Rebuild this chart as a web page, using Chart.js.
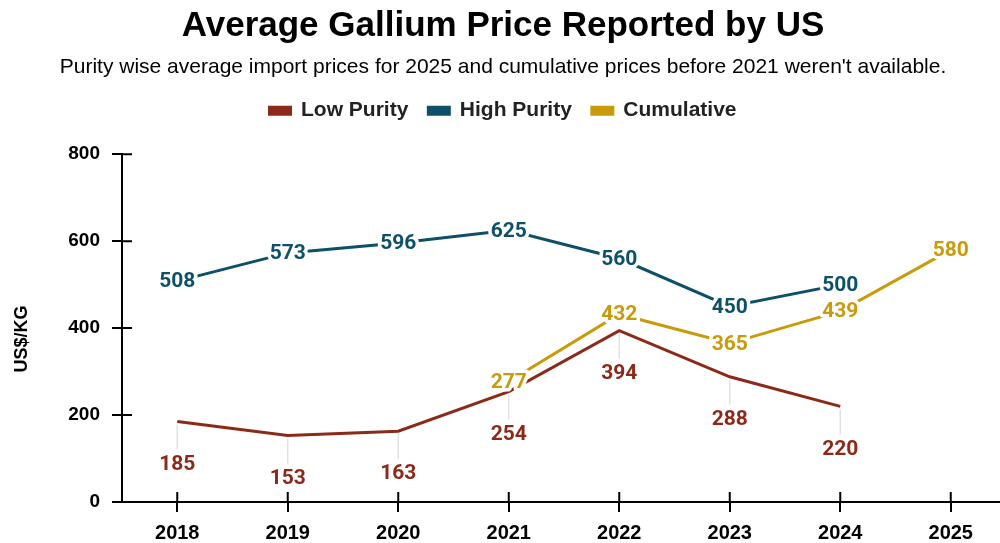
<!DOCTYPE html>
<html>
<head>
<meta charset="utf-8">
<script src="https://cdn.jsdelivr.net/npm/chart.js@4.4.1/dist/chart.umd.min.js"></script>
<style>
  html, body { margin: 0; padding: 0; background: #fff; overflow: hidden; }
  #wrap { width: 1018px; height: 543px; }
</style>
</head>
<body>
<div id="wrap"><canvas id="galliumChart"></canvas></div>
<script>
//Data harga gallium//
const years = ["2018", "2019", "2020", "2021", "2022", "2023", "2024", "2025"];
const lowPurity = [185, 153, 163, 254, 394, 288, 220, null];
const highPurity = [508, 573, 596, 625, 560, 450, 500, null];
const cumulative = [null, null, null, 277, 432, 365, 439, 580];
const yTicks = [0, 200, 400, 600, 800];

const RED = "#8c2a1a";
const BLUE = "#0e5069";
const GOLD = "#c99a0a";

// labels on each point; low purity labels sit under the line with a thin leader
const pointLabels = {
  id: "pointLabels",
  afterDatasetsDraw(chart) {
    const ctx = chart.ctx;
    ctx.save();
    ctx.font = "bold 21px Roboto";
    ctx.textAlign = "center";
    ctx.textBaseline = "middle";
    ctx.lineJoin = "round";
    chart.data.datasets.forEach((ds, i) => {
      const meta = chart.getDatasetMeta(i);
      meta.data.forEach((pt, j) => {
        const v = ds.data[j];
        if (v === null || v === undefined) return;
        let y = pt.y;
        if (ds.labelBelow) {
          y = pt.y + 42;
          ctx.strokeStyle = "#e2e2e2";
          ctx.lineWidth = 1.5;
          ctx.beginPath();
          ctx.moveTo(pt.x, pt.y + 3);
          ctx.lineTo(pt.x, y - 14);
          ctx.stroke();
        }
        ctx.strokeStyle = "#fff";
        ctx.lineWidth = 7;
        ctx.strokeText(String(v), pt.x, y + 1);
        ctx.fillStyle = ds.borderColor;
        ctx.fillText(String(v), pt.x, y + 1);
      });
    });
    ctx.restore();
  },
};

// tick marks that cross the axis lines, plus the rotated y title
const axisExtras = {
  id: "axisExtras",
  afterDraw(chart) {
    const ctx = chart.ctx;
    const area = chart.chartArea;
    const x = chart.scales.x;
    const y = chart.scales.y;
    ctx.save();
    ctx.strokeStyle = "#000";
    ctx.lineWidth = 2;
    ctx.beginPath();
    yTicks.forEach((t) => {
      const py = y.getPixelForValue(t);
      ctx.moveTo(area.left, py);
      ctx.lineTo(area.left + 10, py);
    });
    years.forEach((yr, i) => {
      const px = x.getPixelForValue(i);
      ctx.moveTo(px, area.bottom);
      ctx.lineTo(px, area.bottom - 10);
    });
    ctx.stroke();

    ctx.translate(22, 339);
    ctx.rotate(-Math.PI / 2);
    ctx.font = "bold 18px 'Liberation Sans', Arial";
    ctx.fillStyle = "#000";
    ctx.textAlign = "center";
    ctx.textBaseline = "middle";
    ctx.fillText("US$/KG", 0, 0);
    ctx.restore();
  },
};

// extra room between the legend and the plot
const legendGap = {
  id: "legendGap",
  beforeInit(chart) {
    const fit = chart.legend.fit;
    chart.legend.fit = function () {
      fit.bind(chart.legend)();
      this.height += 23;
    };
  },
};

const data = {
  labels: years,
  datasets: [
    {
      label: "Low Purity",
      data: lowPurity,
      borderColor: RED,
      backgroundColor: RED,
      labelBelow: true,
    },
    {
      label: "High Purity",
      data: highPurity,
      borderColor: BLUE,
      backgroundColor: BLUE,
    },
    {
      label: "Cumulative",
      data: cumulative,
      borderColor: GOLD,
      backgroundColor: GOLD,
    },
  ],
};

const config = {
  type: "line",
  data: data,
  options: {
    responsive: true,
    maintainAspectRatio: false,
    animation: false,
    datasets: {
      line: {
        borderWidth: 3,
        tension: 0,
        pointRadius: 0,
        pointHoverRadius: 0,
        spanGaps: false,
      },
    },
    layout: {
      padding: { left: 0, right: 12, top: 0, bottom: 0 },
    },
    scales: {
      x: {
        offset: true,
        afterFit: (scale) => { scale.height = 41; },
        border: { color: "#000", width: 2 },
        grid: { drawOnChartArea: false, tickLength: 10, color: "#000", lineWidth: 2 },
        ticks: {
          color: "#000",
          padding: 9,
          font: { family: "'Liberation Sans', Arial", size: 20, weight: "bold" },
        },
      },
      y: {
        min: 0,
        max: 800,
        afterFit: (scale) => { scale.width = 122; },
        border: { color: "#000", width: 2 },
        grid: { drawOnChartArea: false, tickLength: 10, color: "#000", lineWidth: 2 },
        ticks: {
          stepSize: 200,
          color: "#000",
          padding: 12,
          font: { family: "'Liberation Sans', Arial", size: 19, weight: "bold" },
        },
      },
    },
    plugins: {
      title: {
        display: true,
        text: "Average Gallium Price Reported by US",
        color: "#000",
        font: { family: "'Liberation Sans', Arial", size: 35, weight: "bold" },
        padding: { top: 5, bottom: 8 },
      },
      subtitle: {
        display: true,
        text: "Purity wise average import prices for 2025 and cumulative prices before 2021 weren't available.",
        color: "#000",
        font: { family: "'Liberation Sans', Arial", size: 21, weight: "normal" },
        padding: { top: 0, bottom: 0 },
      },
      legend: {
        position: "top",
        labels: {
          boxWidth: 21,
          boxHeight: 7,
          padding: 20,
          color: "#222",
          font: { family: "'Liberation Sans', Arial", size: 21, weight: "bold" },
        },
      },
      tooltip: { enabled: false },
    },
  },
  plugins: [legendGap, pointLabels, axisExtras],
};

const galliumChart = new Chart(document.getElementById("galliumChart").getContext("2d"), config);
//Akhir data harga gallium//
</script>
</body>
</html>
